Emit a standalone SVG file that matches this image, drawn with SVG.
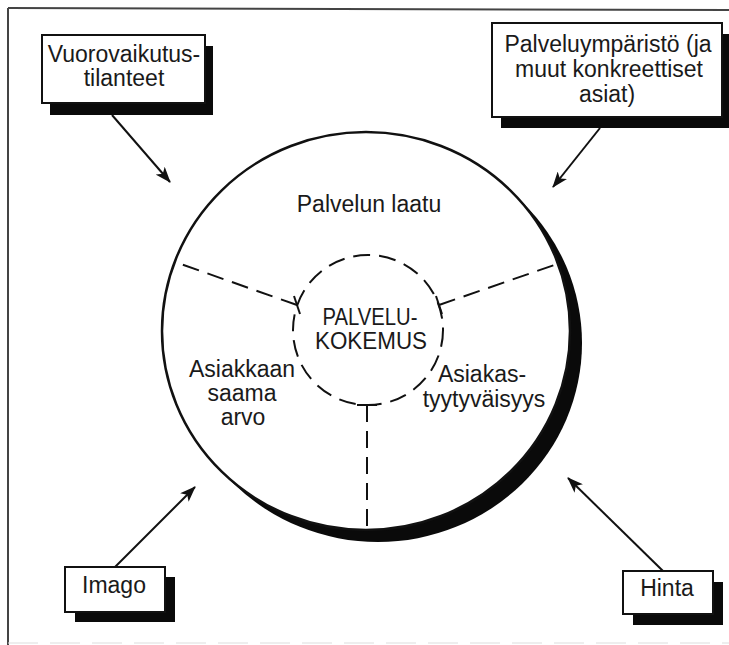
<svg xmlns="http://www.w3.org/2000/svg" width="729" height="645" viewBox="0 0 729 645">
<style>
  .t { font-family: "Liberation Sans", Arial, sans-serif; font-size: 23px; fill: #1a1a1a; text-anchor: middle; }
  .box { fill: #fff; stroke: #111; stroke-width: 2; }
  .shadow { fill: #0a0a0a; }
  .arrow { stroke: #111; stroke-width: 2; fill: none; marker-end: url(#ah); }
  .dash { stroke: #111; stroke-width: 2; fill: none; stroke-dasharray: 17 9; }
  .tick { stroke: #111; stroke-width: 2; fill: none; }
</style>
<defs>
  <marker id="ah" viewBox="0 0 16 12" refX="15" refY="6" markerWidth="16" markerHeight="12" markerUnits="userSpaceOnUse" orient="auto">
    <path d="M0,0 L16,6 L0,12 L4,6 Z" fill="#111"/>
  </marker>
</defs>
<rect width="729" height="645" fill="#fff"/>
<g id="frame">
  <line x1="8" y1="8" x2="729" y2="10" stroke="#444" stroke-width="2"/>
  <line x1="8" y1="8" x2="8" y2="645" stroke="#444" stroke-width="2"/>
  <line x1="8" y1="643" x2="729" y2="643" stroke="#ddd" stroke-width="1" stroke-dasharray="30 12"/>
</g>
<g id="experience">
  <ellipse cx="378" cy="343" rx="204" ry="199" fill="#0a0a0a"/>
  <ellipse cx="366" cy="331" rx="204" ry="199" fill="#fff" stroke="#111" stroke-width="2.5"/>
  <circle class="dash" cx="368" cy="330" r="75"/>
  <line class="dash" x1="297" y1="305" x2="175" y2="262"/>
  <line class="dash" x1="439" y1="305" x2="560" y2="263"/>
  <line class="dash" x1="367" y1="405" x2="367" y2="530"/>
  <line class="tick" x1="294" y1="296" x2="300" y2="314"/>
  <line class="tick" x1="436" y1="296" x2="442" y2="314"/>
  <line class="tick" x1="357" y1="405" x2="377" y2="405"/>
  <text class="t" x="369" y="212">Palvelun laatu</text>
  <text class="t" x="370" y="325" textLength="95" lengthAdjust="spacingAndGlyphs">PALVELU-</text>
  <text class="t" x="371" y="349" textLength="112" lengthAdjust="spacingAndGlyphs">KOKEMUS</text>
  <text class="t" x="242" y="377">Asiakkaan</text>
  <text class="t" x="242" y="401">saama</text>
  <text class="t" x="243" y="425">arvo</text>
  <text class="t" x="482" y="382">Asiakas-</text>
  <text class="t" x="484" y="407">tyytyväisyys</text>
</g>
<g id="vuorovaikutus">
  <rect class="shadow" x="50" y="46" width="163" height="69"/>
  <rect class="box" x="42" y="35" width="163" height="68"/>
  <text class="t" x="124" y="62">Vuorovaikutus-</text>
  <text class="t" x="124" y="86">tilanteet</text>
</g>
<g id="palveluymparisto">
  <rect class="shadow" x="501" y="34" width="230" height="94"/>
  <rect class="box" x="492" y="23" width="230" height="94"/>
  <text class="t" x="608" y="52">Palveluympäristö (ja</text>
  <text class="t" x="609" y="77">muut konkreettiset</text>
  <text class="t" x="607" y="102">asiat)</text>
</g>
<g id="imago">
  <rect class="shadow" x="75" y="577" width="100" height="45"/>
  <rect class="box" x="65" y="567" width="100" height="45"/>
  <text class="t" x="114" y="593" font-size="24">Imago</text>
</g>
<g id="hinta">
  <rect class="shadow" x="633" y="582" width="90" height="43"/>
  <rect class="box" x="623" y="571" width="90" height="43"/>
  <text class="t" x="667" y="596" font-size="24">Hinta</text>
</g>
<g id="connectors">
  <line class="arrow" x1="112" y1="115" x2="170" y2="182"/>
  <line class="arrow" x1="600" y1="128" x2="553" y2="187"/>
  <line class="arrow" x1="115" y1="567" x2="195" y2="487"/>
  <line class="arrow" x1="663" y1="571" x2="568" y2="478"/>
</g>
</svg>
